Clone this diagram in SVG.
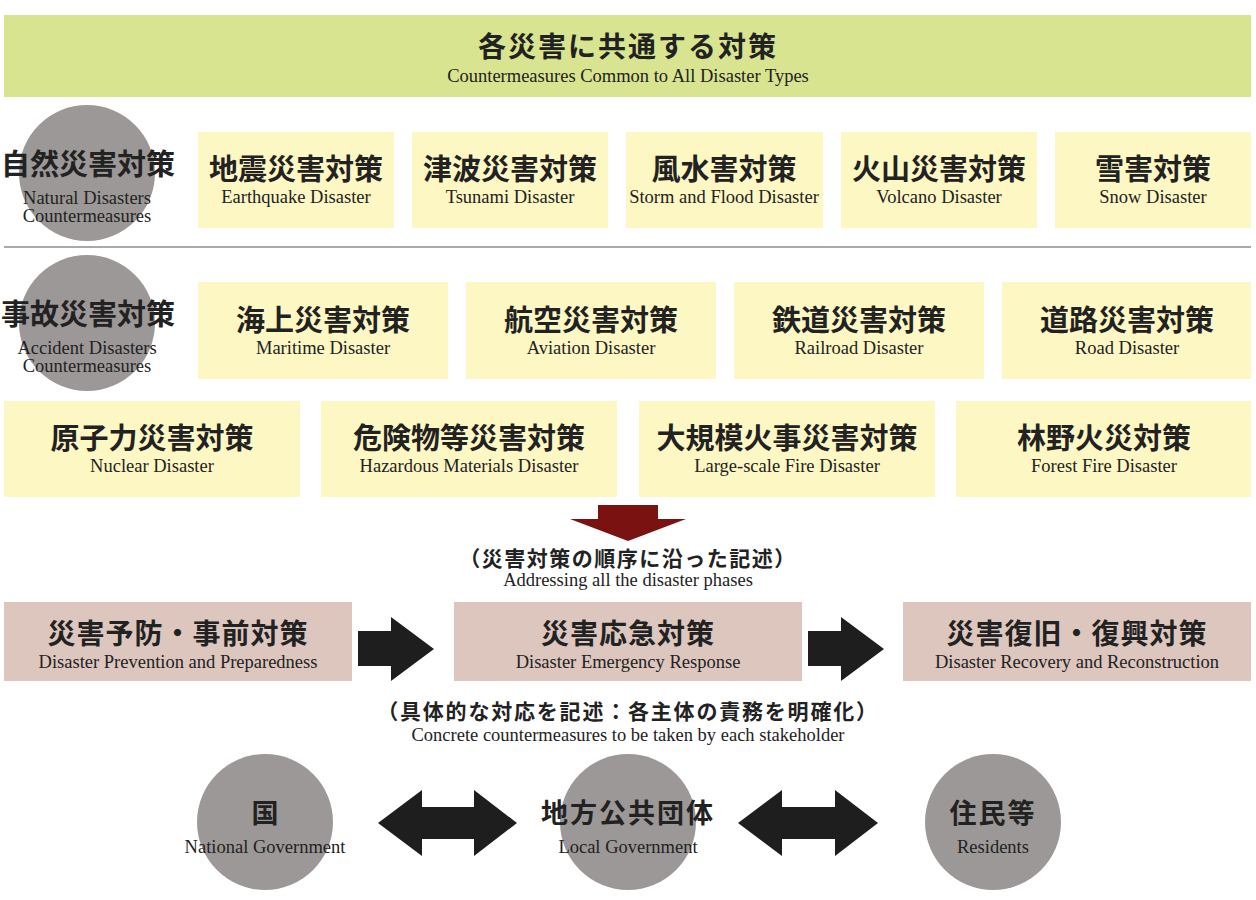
<svg xmlns="http://www.w3.org/2000/svg" width="1256" height="900" viewBox="0 0 1256 900">
<style>
.jp{font-family:"Noto Sans CJK JP","Noto Sans",sans-serif;font-weight:bold;fill:#222;text-anchor:middle}
.en{font-family:"Liberation Serif",serif;fill:#222;text-anchor:middle;font-size:18.5px}
.j28{font-size:29px}
.yb{fill:#fdf7c4}
.pb{fill:#dcc6be}
.cir{fill:#9c9897}
.blk{fill:#1e1e1e}
</style>
<rect width="1256" height="900" fill="#fff"/>
<g id="common">
<rect x="4" y="15" width="1247" height="82" fill="#d8e48f"/>
<text class="jp" x="628" y="57" font-size="28" letter-spacing="2">各災害に共通する対策</text>
<text class="en" x="628" y="82" font-size="17.5">Countermeasures Common to All Disaster Types</text>
</g>
<g id="natural">
<circle class="cir" cx="87" cy="173" r="68"/>
<text class="jp j28" x="88" y="175">自然災害対策</text>
<text class="en" x="87" y="204">Natural Disasters</text>
<text class="en" x="87" y="222">Countermeasures</text>
</g>
<g id="earthquake"><rect class="yb" x="198" y="132" width="196" height="96"/><text class="jp j28" x="296" y="180">地震災害対策</text><text class="en" x="296" y="203">Earthquake Disaster</text></g>
<g id="tsunami"><rect class="yb" x="412" y="132" width="196" height="96"/><text class="jp j28" x="510" y="180">津波災害対策</text><text class="en" x="510" y="203">Tsunami Disaster</text></g>
<g id="storm"><rect class="yb" x="626" y="132" width="197" height="96"/><text class="jp j28" x="724" y="180">風水害対策</text><text class="en" x="724" y="203">Storm and Flood Disaster</text></g>
<g id="volcano"><rect class="yb" x="841" y="132" width="196" height="96"/><text class="jp j28" x="939" y="180">火山災害対策</text><text class="en" x="939" y="203">Volcano Disaster</text></g>
<g id="snow"><rect class="yb" x="1055" y="132" width="196" height="96"/><text class="jp j28" x="1153" y="180">雪害対策</text><text class="en" x="1153" y="203">Snow Disaster</text></g>
<line x1="4" y1="247" x2="1251" y2="247" stroke="#555" stroke-width="1.2"/>
<g id="accident">
<circle class="cir" cx="87" cy="323" r="68"/>
<text class="jp j28" x="88" y="325">事故災害対策</text>
<text class="en" x="87" y="354">Accident Disasters</text>
<text class="en" x="87" y="372">Countermeasures</text>
</g>
<g id="maritime"><rect class="yb" x="198" y="282" width="250" height="97"/><text class="jp j28" x="323" y="331">海上災害対策</text><text class="en" x="323" y="354">Maritime Disaster</text></g>
<g id="aviation"><rect class="yb" x="466" y="282" width="250" height="97"/><text class="jp j28" x="591" y="331">航空災害対策</text><text class="en" x="591" y="354">Aviation Disaster</text></g>
<g id="railroad"><rect class="yb" x="734" y="282" width="250" height="97"/><text class="jp j28" x="859" y="331">鉄道災害対策</text><text class="en" x="859" y="354">Railroad Disaster</text></g>
<g id="road"><rect class="yb" x="1002" y="282" width="249" height="97"/><text class="jp j28" x="1127" y="331">道路災害対策</text><text class="en" x="1127" y="354">Road Disaster</text></g>
<g id="nuclear"><rect class="yb" x="4" y="401" width="296" height="96"/><text class="jp j28" x="152" y="449">原子力災害対策</text><text class="en" x="152" y="472">Nuclear Disaster</text></g>
<g id="hazardous"><rect class="yb" x="321" y="401" width="296" height="96"/><text class="jp j28" x="469" y="449">危険物等災害対策</text><text class="en" x="469" y="472">Hazardous Materials Disaster</text></g>
<g id="largefire"><rect class="yb" x="639" y="401" width="296" height="96"/><text class="jp j28" x="787" y="449">大規模火事災害対策</text><text class="en" x="787" y="472">Large-scale Fire Disaster</text></g>
<g id="forestfire"><rect class="yb" x="956" y="401" width="295" height="96"/><text class="jp j28" x="1104" y="449">林野火災対策</text><text class="en" x="1104" y="472">Forest Fire Disaster</text></g>
<g id="connectors">
<polygon fill="#7a1212" points="598,505 658,505 658,519 686,519 628,541 570,519 598,519"/>
<polygon class="blk" points="358,631 391,631 391,617 434,649 391,681 391,666 358,666"/>
<polygon class="blk" points="808,631 841,631 841,617 884,649 841,681 841,666 808,666"/>
<polygon class="blk" points="378,823 422,790 422,807 474,807 474,790 517,823 474,856 474,839 422,839 422,856"/>
<polygon class="blk" points="738,823 782,790 782,807 835,807 835,790 878,823 835,856 835,839 782,839 782,856"/>
</g>
<g id="phase-note">
<text class="jp" x="628" y="566" font-size="21" letter-spacing="1.5">（災害対策の順序に沿った記述）</text>
<text class="en" x="628" y="586" font-size="18">Addressing all the disaster phases</text>
</g>
<g id="prevention"><rect class="pb" x="4" y="602" width="348" height="79"/><text class="jp" font-size="28" x="178" y="644" letter-spacing="1">災害予防・事前対策</text><text class="en" x="178" y="668">Disaster Prevention and Preparedness</text></g>
<g id="emergency"><rect class="pb" x="454" y="602" width="348" height="79"/><text class="jp" font-size="28" x="628" y="644" letter-spacing="1">災害応急対策</text><text class="en" x="628" y="668">Disaster Emergency Response</text></g>
<g id="recovery"><rect class="pb" x="903" y="602" width="348" height="79"/><text class="jp" font-size="28" x="1077" y="644" letter-spacing="1">災害復旧・復興対策</text><text class="en" x="1077" y="668">Disaster Recovery and Reconstruction</text></g>
<g id="stake-note">
<text class="jp" x="628" y="719" font-size="21" letter-spacing="1.8">（具体的な対応を記述：各主体の責務を明確化）</text>
<text class="en" x="628" y="741" font-size="18">Concrete countermeasures to be taken by each stakeholder</text>
</g>
<g id="national"><circle class="cir" cx="265" cy="822" r="68"/><text class="jp" x="265" y="823" font-size="27">国</text><text class="en" x="265" y="853">National Government</text></g>
<g id="local"><circle class="cir" cx="628" cy="822" r="68"/><text class="jp" x="628" y="823" font-size="27" letter-spacing="2">地方公共団体</text><text class="en" x="628" y="853">Local Government</text></g>
<g id="residents"><circle class="cir" cx="993" cy="822" r="68"/><text class="jp" x="993" y="823" font-size="27" letter-spacing="2">住民等</text><text class="en" x="993" y="853">Residents</text></g>
</svg>
